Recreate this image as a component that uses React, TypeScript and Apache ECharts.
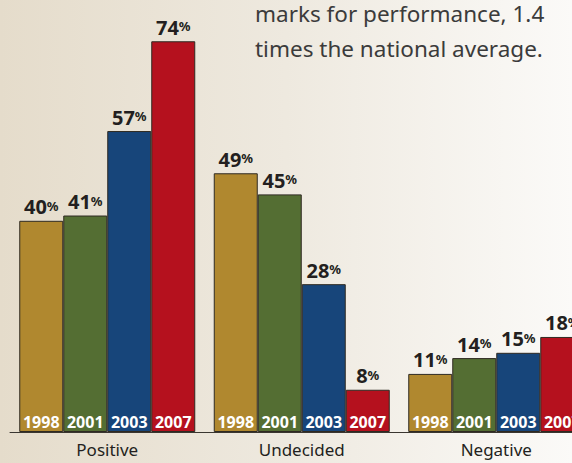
import React, { useEffect, useRef } from "react";
import * as echarts from "echarts";

const categories = ["Positive", "Undecided", "Negative"];
const years = ["1998", "2001", "2003", "2007"];
const values1998 = [40, 49, 11];
const values2001 = [41, 45, 14];
const values2003 = [57, 28, 15];
const values2007 = [74, 8, 18];
const yearColors = ["#b0882f", "#546e33", "#17457a", "#b5111e"];
const captionLines = ["marks for performance, 1.4", "times the national average."];

const FONT = "'Noto Sans', 'Open Sans', sans-serif";

export default function App() {
  const ref = useRef<HTMLDivElement>(null);

  useEffect(() => {
    if (!ref.current) return;
    const chart = echarts.init(ref.current, undefined, { renderer: "svg" });
    const seriesValues = [values1998, values2001, values2003, values2007];

    const series: any[] = [];
    years.forEach((year, i) => {
      // the bar itself, with its year written inside at the bottom
      series.push({
        name: year,
        type: "bar",
        stack: "s" + year,
        data: seriesValues[i],
        barWidth: 44,
        barGap: "0%",
        itemStyle: { color: yearColors[i], borderColor: "#2f2a22", borderWidth: 1 },
        label: {
          show: true,
          position: "insideBottom",
          distance: 2,
          formatter: year,
          color: "#ffffff",
          fontFamily: FONT,
          fontWeight: "bold",
          fontSize: 16,
        },
      });
      // zero-height cap on top of the bar carrying the percentage label
      series.push({
        name: year + " value",
        type: "bar",
        stack: "s" + year,
        data: seriesValues[i].map(() => 0),
        barWidth: 44,
        barGap: "0%",
        z: 5,
        itemStyle: { color: "transparent", borderWidth: 0 },
        label: {
          show: true,
          position: "insideBottom",
          distance: 4,
          formatter: (p: any) => `{n|${seriesValues[i][p.dataIndex]}}{p|%}`,
          rich: {
            n: { fontFamily: FONT, fontWeight: "bold", fontSize: 20, color: "#231f20" },
            p: { fontFamily: FONT, fontWeight: "bold", fontSize: 13, color: "#231f20", padding: [0, 0, 2, 0] },
          },
        },
      });
    });

    chart.setOption({
      animation: false,
      backgroundColor: "transparent",
      grid: { left: 10, top: 9.6, width: 583.5, height: 422.4, containLabel: false },
      xAxis: {
        type: "category",
        data: categories,
        axisLine: { show: true, lineStyle: { color: "#3a3630", width: 1 } },
        axisTick: { show: false },
        axisLabel: {
          color: "#231f20",
          fontFamily: FONT,
          fontSize: 17,
          margin: 9,
        },
      },
      yAxis: {
        type: "value",
        min: 0,
        max: 80,
        show: false,
        splitLine: { show: false },
      },
      graphic: captionLines.map((line, i) => ({
        type: "text",
        left: 255,
        top: 2 + i * 35,
        style: {
          text: line,
          fill: "#3b3b3b",
          font: `22.5px ${FONT}`,
        },
      })),
      series,
    });

    return () => chart.dispose();
  }, []);

  return (
    <div
      style={{
        position: "absolute",
        left: 0,
        top: 0,
        width: 572,
        height: 463,
        overflow: "hidden",
        background: "linear-gradient(to right, #e5dccb 0%, #eee9df 50%, #fbfaf8 100%)",
      }}
    >
      <div ref={ref} style={{ width: 640, height: 463 }} />
    </div>
  );
}
